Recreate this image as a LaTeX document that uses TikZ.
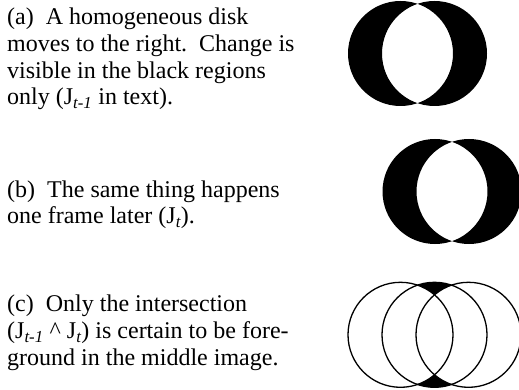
\documentclass[tikz,border=0pt]{standalone}
\usepackage{fontspec}
\setmainfont{Liberation Serif}
\begin{document}
\begin{tikzpicture}[x=1pt,y=-1pt,
  txt/.style={anchor=base west,inner sep=0pt,font=\fontsize{24}{26.7}\selectfont},
  xorfill/.style={fill=black,even odd rule},
  ring/.style={draw=black,line width=1.3pt}]
\useasboundingbox (0,0) rectangle (519,390);
\clip (0,0) rectangle (519,390);
% text (a)
\node[txt] (a1) at (7,25) {(a)\hspace{0.5em}A homogeneous disk};
\node[txt] (a2) at (7,51.7) {moves to the right.\hspace{0.5em}Change is};
\node[txt] (a3) at (7,78.3) {visible in the black regions};
\node[txt] (a4) at (7,105) {only (J\textsubscript{\itshape t-1} in text).};
% text (b)
\node[txt] (b1) at (7,197) {(b)\hspace{0.5em}The same thing happens};
\node[txt] (b2) at (7,223.5) {one frame later (J\textsubscript{\itshape t}).};
% text (c)
\node[txt] (c1) at (7,311.7) {(c)\hspace{0.5em}Only the intersection};
\node[txt] (c2) at (7,338.3) {(J\textsubscript{\itshape t-1} \textasciicircum\ J\textsubscript{\itshape t}) is certain to be fore-};
\node[txt] (c3) at (7,365) {ground in the middle image.};
% panel (a): J_{t-1}
\fill[xorfill] (400.5,53.5) circle[radius=52.5] (434.5,53.5) circle[radius=52.5];
% panel (b): J_t
\fill[xorfill] (435,191.5) circle[radius=52.5] (469,191.5) circle[radius=52.5];
% panel (c): intersection
\fill[black] (434.5,334.8) circle[radius=52.5];
\fill[white] (400.5,334.8) circle[radius=52.5];
\fill[white] (468.5,334.8) circle[radius=52.5];
\draw[ring] (400.5,334.8) circle[radius=52.5];
\draw[ring] (434.5,334.8) circle[radius=52.5];
\draw[ring] (468.5,334.8) circle[radius=52.5];
\end{tikzpicture}
\end{document}
